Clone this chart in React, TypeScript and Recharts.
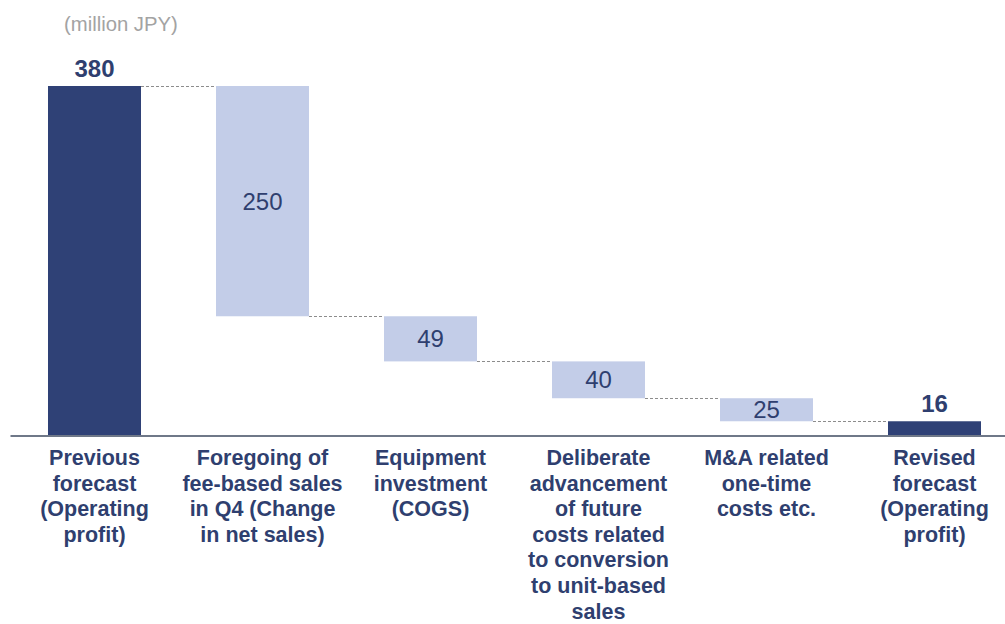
import { BarChart, Bar, XAxis, YAxis, LabelList } from "recharts";

const categories = [
  "Previous\nforecast\n(Operating\nprofit)",
  "Foregoing of\nfee-based sales\nin Q4 (Change\nin net sales)",
  "Equipment\ninvestment\n(COGS)",
  "Deliberate\nadvancement\nof future\ncosts related\nto conversion\nto unit-based\nsales",
  "M&A related\none-time\ncosts etc.",
  "Revised\nforecast\n(Operating\nprofit)",
];
const values = [380, -250, -49, -40, -25, 16];
const isTotal = [true, false, false, false, false, true];

const DARK = "#2F4176";
const LIGHT = "#C3CDE8";
const TEXT = "#2F3F6F";
const FONT = "'Liberation Sans', Arial, sans-serif";
// gap on each side of a bar, as a share of the band
const SIDE_GAP = 0.2232;

// running level -> invisible base + visible step
let level = 0;
const data = categories.map((name, i) => {
  const v = values[i];
  let base = 0;
  let size = Math.abs(v);
  let connect: string | null = "top";
  if (isTotal[i]) {
    level = v;
  } else {
    const end = level + v;
    base = Math.min(level, end);
    connect = v < 0 ? "bottom" : "top";
    level = end;
  }
  if (i === categories.length - 1) connect = null;
  return { name, base, size, label: Math.abs(v), total: isTotal[i], connect };
});

const StepShape = (props: any) => {
  const { x, y, width, height, payload } = props;
  const span = (width * 2 * SIDE_GAP) / (1 - 2 * SIDE_GAP);
  const ly = payload.connect === "top" ? y : y + height;
  return (
    <g>
      <rect x={x} y={y} width={width} height={height} fill={payload.total ? DARK : LIGHT} />
      {payload.connect && (
        <line
          x1={x + width}
          x2={x + width + span}
          y1={Math.round(ly) + 0.5}
          y2={Math.round(ly) + 0.5}
          stroke="#8c8c8c"
          strokeWidth={1}
          strokeDasharray="3 2"
        />
      )}
    </g>
  );
};

const StepLabel = (props: any) => {
  const { x, y, width, height, value, index } = props;
  const d = data[index];
  if (!d) return null;
  if (d.total) {
    return (
      <text x={x + width / 2} y={y - 9} textAnchor="middle" fontFamily={FONT} fontSize={24} fontWeight="bold" fill={TEXT}>
        {value}
      </text>
    );
  }
  return (
    <text x={x + width / 2} y={y + height / 2 + 8.5} textAnchor="middle" fontFamily={FONT} fontSize={24} fill={TEXT}>
      {value}
    </text>
  );
};

const CategoryTick = (props: any) => {
  const { x, y, payload } = props;
  const lines = String(payload.value).split("\n");
  return (
    <text x={x} y={y + 21} textAnchor="middle" fontFamily={FONT} fontSize={21.5} fontWeight="bold" fill={TEXT}>
      {lines.map((l, i) => (
        <tspan key={i} x={x} dy={i === 0 ? 0 : 25.6}>
          {l}
        </tspan>
      ))}
    </text>
  );
};

export default function App() {
  return (
    <div style={{ position: "absolute", left: 0, top: 0, width: 1005, height: 624, overflow: "hidden", background: "#fff" }}>
      <div
        style={{
          position: "absolute",
          left: 64,
          top: 12,
          fontFamily: FONT,
          fontSize: 20.3,
          lineHeight: "24px",
          color: "#a3a3a3",
        }}
      >
        (million JPY)
      </div>
      <BarChart
        width={1020}
        height={624}
        data={data}
        margin={{ top: 86, right: 1.5, bottom: 0, left: 10.5 }}
        barCategoryGap={`${SIDE_GAP * 100}%`}
      >
        <XAxis
          dataKey="name"
          interval={0}
          tickLine={false}
          axisLine={{ stroke: "#6F7888", strokeWidth: 2 }}
          height={188}
          tick={<CategoryTick />}
        />
        <YAxis hide domain={[0, 380]} />
        <Bar dataKey="base" stackId="w" fill="transparent" isAnimationActive={false} />
        <Bar dataKey="size" stackId="w" shape={<StepShape />} isAnimationActive={false}>
          <LabelList dataKey="label" content={<StepLabel />} />
        </Bar>
      </BarChart>
    </div>
  );
}
